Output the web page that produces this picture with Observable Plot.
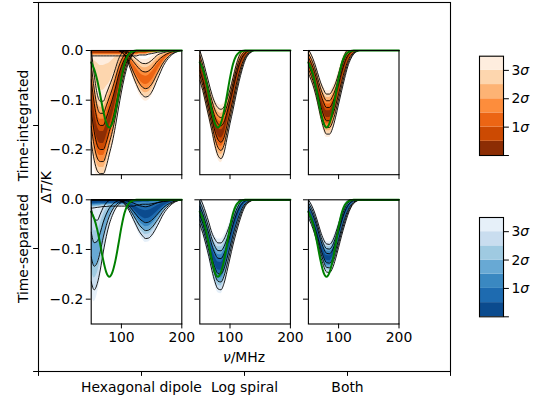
<!DOCTYPE html>
<html><head><meta charset="utf-8">
<script src="https://cdn.jsdelivr.net/npm/d3@7"></script>
<script src="https://cdn.jsdelivr.net/npm/@observablehq/plot@0.6"></script>
<style>
html,body{margin:0;padding:0;background:#fff;}
#fig{position:relative;width:538px;height:401px;overflow:hidden;}
#fig svg{position:absolute;left:0;top:0;}
</style></head><body><div id="fig"></div>
<script>
// ---------------- data ----------------
const FREQ = [50,55,60,65,70,75,80,85,90,95,100,105,110,115,120,125,130,135,140,145,150,160,170,180,190,200];
const TRUE_SIGNAL = [-0.024,-0.038,-0.06,-0.09,-0.122,-0.146,-0.155,-0.146,-0.123,-0.09,-0.055,-0.027,-0.011,-0.004,-0.001,0,0,0,0,0,0,0,0,0,0,0];

// Time-integrated, Hexagonal dipole (several posterior modes)
const HEX_INT_ZERO_MED = [-0.004,-0.004,-0.004,-0.004,-0.004,-0.004,-0.004,-0.004,-0.004,-0.004,-0.004,-0.004,-0.004,-0.004,-0.004,-0.004,-0.003,-0.003,-0.003,-0.002,-0.002,-0.001,-0.0005,0,0,0];
const HEX_INT_ZERO_W   = [0.008,0.008,0.008,0.008,0.008,0.008,0.008,0.008,0.008,0.008,0.008,0.008,0.008,0.008,0.008,0.008,0.007,0.007,0.007,0.006,0.005,0.003,0.0015,0.0005,0,0];
const HEX_INT_A_MED = [-0.09,-0.135,-0.165,-0.175,-0.175,-0.16,-0.14,-0.12,-0.095,-0.068,-0.045,-0.027,-0.014,-0.006,-0.002,0,0,0,0,0,0,0,0,0,0,0];
const HEX_INT_A_W   = [0.11,0.1,0.09,0.085,0.085,0.085,0.08,0.075,0.068,0.058,0.045,0.032,0.02,0.012,0.005,0,0,0,0,0,0,0,0,0,0,0];
const HEX_INT_ISLAND_MED = [-0.03,-0.04,-0.05,-0.055,-0.055,-0.05,-0.045,-0.035,-0.025,-0.017,-0.01,-0.005,-0.002,0,0,0,0,0,0,0,0,0,0,0,0,0];
const HEX_INT_ISLAND_W   = [0.03,0.04,0.05,0.05,0.05,0.045,0.04,0.032,0.024,0.016,0.009,0.004,0.001,0,0,0,0,0,0,0,0,0,0,0,0,0];
const HEX_INT_B_MED = [0,0,0,0,0,0,0,0,0,0,-0.002,-0.005,-0.012,-0.022,-0.033,-0.043,-0.052,-0.058,-0.06,-0.058,-0.052,-0.033,-0.017,-0.007,-0.002,0];
const HEX_INT_B_W   = [0,0,0,0,0,0,0,0,0,0,0.002,0.005,0.011,0.019,0.026,0.032,0.037,0.04,0.042,0.042,0.04,0.03,0.016,0.007,0.002,0];
// Time-integrated, Log spiral
const LOG_INT_MED = [-0.03,-0.05,-0.075,-0.1,-0.125,-0.148,-0.163,-0.168,-0.16,-0.138,-0.113,-0.087,-0.06,-0.037,-0.02,-0.009,-0.003,-0.001,0,0,0,0,0,0,0,0];
const LOG_INT_W   = [0.035,0.036,0.038,0.04,0.043,0.05,0.056,0.058,0.054,0.046,0.04,0.038,0.035,0.03,0.022,0.013,0.007,0.003,0,0,0,0,0,0,0,0];
// Time-integrated, Both
const BOTH_INT_MED = [-0.022,-0.035,-0.052,-0.074,-0.098,-0.117,-0.128,-0.128,-0.118,-0.1,-0.077,-0.053,-0.032,-0.016,-0.007,-0.002,-0.0005,0,0,0,0,0,0,0,0,0];
const BOTH_INT_W   = [0.028,0.03,0.032,0.035,0.04,0.045,0.047,0.047,0.045,0.04,0.036,0.033,0.028,0.02,0.012,0.006,0.002,0,0,0,0,0,0,0,0,0];

// Time-separated, Hexagonal dipole
const HEX_SEP_ZERO_MED = [-0.005,-0.005,-0.005,-0.005,-0.005,-0.005,-0.005,-0.005,-0.005,-0.005,-0.005,-0.005,-0.005,-0.005,-0.005,-0.004,-0.004,-0.003,-0.003,-0.003,-0.002,-0.0015,-0.001,-0.0005,0,0];
const HEX_SEP_ZERO_W   = [0.014,0.013,0.012,0.011,0.01,0.01,0.009,0.009,0.009,0.009,0.009,0.009,0.009,0.009,0.009,0.008,0.007,0.007,0.007,0.007,0.007,0.005,0.003,0.002,0.001,0];
const HEX_SEP_A_MED = [-0.09,-0.11,-0.105,-0.085,-0.06,-0.04,-0.025,-0.015,-0.008,-0.004,-0.002,-0.001,0,0,0,0,0,0,0,0,0,0,0,0,0,0];
const HEX_SEP_A_W   = [0.1,0.095,0.085,0.075,0.06,0.045,0.032,0.022,0.014,0.008,0.004,0.002,0,0,0,0,0,0,0,0,0,0,0,0,0,0];
const HEX_SEP_B_MED = [0,0,0,0,0,0,0,0,0,0,-0.001,-0.003,-0.006,-0.01,-0.015,-0.02,-0.025,-0.028,-0.03,-0.029,-0.026,-0.017,-0.009,-0.004,-0.001,0];
const HEX_SEP_B_W   = [0,0,0,0,0,0,0,0,0,0,0.002,0.006,0.012,0.02,0.029,0.038,0.046,0.052,0.056,0.056,0.053,0.04,0.022,0.01,0.003,0];
// Time-separated, Log spiral
const LOG_SEP_MED = [-0.022,-0.038,-0.058,-0.08,-0.104,-0.122,-0.133,-0.134,-0.124,-0.105,-0.083,-0.06,-0.04,-0.024,-0.012,-0.005,-0.002,-0.0005,0,0,0,0,0,0,0,0];
const LOG_SEP_W   = [0.032,0.034,0.037,0.04,0.044,0.05,0.054,0.055,0.052,0.046,0.04,0.036,0.032,0.026,0.018,0.01,0.005,0.002,0,0,0,0,0,0,0,0];
// Time-separated, Both
const BOTH_SEP_MED = [-0.018,-0.03,-0.046,-0.066,-0.088,-0.106,-0.117,-0.118,-0.11,-0.093,-0.072,-0.05,-0.031,-0.017,-0.008,-0.003,-0.001,0,0,0,0,0,0,0,0,0];
const BOTH_SEP_W   = [0.021,0.023,0.025,0.027,0.029,0.031,0.033,0.033,0.032,0.03,0.028,0.026,0.023,0.017,0.01,0.005,0.002,0,0,0,0,0,0,0,0,0];

const ANTENNAS = ["Hexagonal dipole", "Log spiral", "Both"];
const ROWS = ["Time-integrated", "Time-separated"];
const OUTER_X_TICKS = [0, 0.25, 0.5, 0.75, 1];
const OUTER_Y_TICKS = [0, 1/3, 2/3, 1];
const X_TICKS = [100, 200];
const Y_TICKS = [0, -0.1, -0.2];
const SIGMA_EDGES = [0, 0.5, 1, 1.5, 2, 2.5, 3, 3.5];
const SIGMA_TICKS = [0, 1, 2, 3];
const ORANGES = ["#8c2d04","#cc4a02","#ec6514","#fd8d3c","#fdb374","#fdd6ae","#feedde"];
const BLUES   = ["#0b4b8e","#1e6bb0","#3a88c1","#68a9d4","#9fcae1","#c9ddef","#e6f0f9"];

// ---------------- drawing ----------------
const W = 538, H = 401;
const STYLE = {fontFamily: '"DejaVu Sans", sans-serif', fontSize: "13.9px", background: "transparent", color: "black", overflow: "visible"};
const fig = document.getElementById("fig");

// outer frame
const outer = Plot.plot({
  width: W, height: H, marginLeft: 38, marginRight: 88, marginTop: 2, marginBottom: 30,
  style: STYLE, x: {domain: [0, 1]}, y: {domain: [0, 1]},
  marks: [
    Plot.frame({stroke: "black", strokeWidth: 1.1}),
    Plot.axisX({ticks: OUTER_X_TICKS, tickFormat: () => "", tickSize: 4.9, label: null}),
    Plot.axisY({ticks: OUTER_Y_TICKS, tickFormat: () => "", tickSize: 4.9, label: null}),
    Plot.text(ANTENNAS, {x: (d, i) => OUTER_X_TICKS[i + 1], y: 0, dy: 16, text: d => d, lineAnchor: "middle", fill: "black"}),
    Plot.text(ROWS, {x: 0, y: (d, i) => OUTER_Y_TICKS[2 - i], dx: -15, rotate: -90, text: d => d, lineAnchor: "middle", fill: "black"})
  ]
});
fig.appendChild(outer);
{
  const s = d3.select(outer);
  const t1 = s.append("text").attr("transform", "translate(45.5,187) rotate(-90)")
    .attr("text-anchor", "middle").attr("dominant-baseline", "central").attr("fill", "black");
  t1.append("tspan").text("Δ");
  t1.append("tspan").attr("font-style", "italic").text("T");
  t1.append("tspan").text("/K");
  const t2 = s.append("text").attr("x", 244).attr("y", 357)
    .attr("text-anchor", "middle").attr("dominant-baseline", "central").attr("fill", "black");
  t2.append("tspan").attr("font-style", "italic").text("ν");
  t2.append("tspan").text("/MHz");
}

const COL_LEFT = [90.7, 199.3, 307.9], PANEL_W = 90.6;
const ROW_TOP = [50, 199.3], PANEL_H = 124.2;

function panel(col, row, ribbons, colors) {
  const L = COL_LEFT[col], T = ROW_TOP[row];
  const marks = [];
  for (let lev = 6; lev >= 0; --lev) {
    for (const rb of ribbons) {
      if (lev < rb.base) continue;
      const f = (lev - rb.base + 1) / (7 - rb.base);
      marks.push(Plot.areaY(FREQ, {x: d => d, y1: (d, i) => rb.med[i] - f * rb.w[i], y2: (d, i) => rb.med[i] + f * rb.w[i],
        fill: colors[lev], curve: "monotone-x", clip: true}));
    }
  }
  for (const rb of ribbons) {
    for (const lev of rb.lines) {
      if (lev < rb.base) continue;
      const f = (lev - rb.base + 1) / (7 - rb.base);
      for (const sg of [-1, 1]) {
        marks.push(Plot.lineY(FREQ, {x: d => d, y: (d, i) => rb.med[i] + sg * f * rb.w[i],
          stroke: "black", strokeWidth: 0.9, curve: "monotone-x", clip: true}));
      }
    }
  }
  marks.push(Plot.lineY(FREQ, {x: d => d, y: (d, i) => TRUE_SIGNAL[i], stroke: "green", strokeWidth: 2, curve: "monotone-x"}));
  marks.push(Plot.frame({stroke: "black", strokeWidth: 1.1}));
  marks.push(Plot.axisX({ticks: X_TICKS, tickSize: 4.9, tickPadding: 3, label: null,
    tickFormat: row === 1 ? d => String(d) : () => ""}));
  marks.push(Plot.axisY({ticks: Y_TICKS, tickSize: 4.9, tickPadding: 3, label: null,
    tickFormat: col === 0 ? d => (d === 0 ? "0.0" : d3.format(".1f")(d)) : () => ""}));
  const svg = Plot.plot({
    width: W, height: H, marginLeft: L, marginRight: W - L - PANEL_W, marginTop: T, marginBottom: H - T - PANEL_H,
    x: {domain: [50, 200]}, y: {domain: [-0.25, 0]}, style: STYLE, marks
  });
  fig.appendChild(svg);
}

const R = (med, w, base, lines) => ({med, w, base, lines});
panel(0, 0, [R(HEX_INT_ZERO_MED, HEX_INT_ZERO_W, 0, [5]), R(HEX_INT_ISLAND_MED, HEX_INT_ISLAND_W, 5, []),
             R(HEX_INT_A_MED, HEX_INT_A_W, 0, [1, 3, 5]), R(HEX_INT_B_MED, HEX_INT_B_W, 2, [3, 5])], ORANGES);
panel(1, 0, [R(LOG_INT_MED, LOG_INT_W, 0, [1, 3, 5])], ORANGES);
panel(2, 0, [R(BOTH_INT_MED, BOTH_INT_W, 0, [1, 3, 5])], ORANGES);
panel(0, 1, [R(HEX_SEP_ZERO_MED, HEX_SEP_ZERO_W, 0, [5]), R(HEX_SEP_A_MED, HEX_SEP_A_W, 3, [3, 5]), R(HEX_SEP_B_MED, HEX_SEP_B_W, 0, [1, 3, 5])], BLUES);
panel(1, 1, [R(LOG_SEP_MED, LOG_SEP_W, 0, [1, 3, 5])], BLUES);
panel(2, 1, [R(BOTH_SEP_MED, BOTH_SEP_W, 0, [1, 3, 5])], BLUES);

function colorbar(top, colors) {
  const bands = colors.map((c, i) => ({lo: SIGMA_EDGES[i], hi: SIGMA_EDGES[i + 1], c}));
  const svg = Plot.plot({
    width: W, height: H, marginLeft: 479, marginRight: 35, marginTop: top, marginBottom: H - top - 99.3,
    x: {domain: [0, 1], axis: null}, y: {domain: [0, 3.5]}, color: {type: "identity"}, style: STYLE,
    marks: [
      Plot.rect(bands, {x1: 0, x2: 1, y1: "lo", y2: "hi", fill: "c"}),
      Plot.frame({stroke: "black", strokeWidth: 1.1}),
      Plot.axisY({anchor: "right", ticks: SIGMA_TICKS, tickSize: 4.9, tickPadding: 3, label: null,
        tickFormat: d => (d === 0 ? "" : d + "σ")})
    ]
  });
  fig.appendChild(svg);
  d3.select(svg).selectAll("text").each(function () {
    const s = this.textContent;
    if (s.endsWith("σ")) {
      const n = s.slice(0, -1);
      this.textContent = "";
      d3.select(this).append("tspan").text(n);
      d3.select(this).append("tspan").attr("font-style", "italic").text("σ");
    }
  });
}
colorbar(55.7, ORANGES);
colorbar(217, BLUES);
</script></body></html>
